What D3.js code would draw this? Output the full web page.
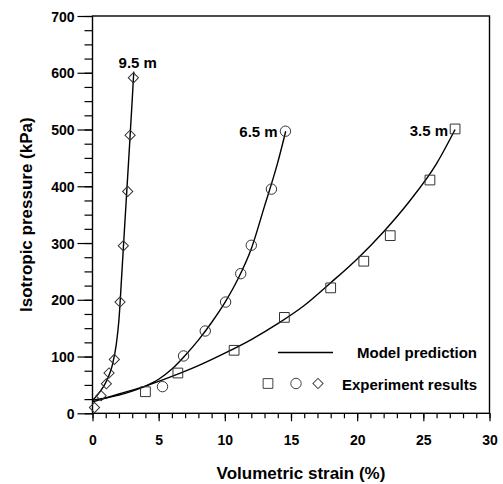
<!DOCTYPE html>
<html><head><meta charset="utf-8">
<script src="https://cdn.jsdelivr.net/npm/d3@7"></script>
<style>
body{margin:0;background:#fff;}
text{font-family:"Liberation Sans",Arial,Helvetica,sans-serif;font-weight:bold;fill:#000;}
</style></head>
<body><svg id="c" width="503" height="484"></svg>
<script>
// ---- data ----
const xTickValues = [0,5,10,15,20,25,30];
const yTickValues = [0,100,200,300,400,500,600,700];
const seriesNames = ["3.5 m","6.5 m","9.5 m"];
// experiment results [strain %, pressure kPa]
const exp35 = [[4.0,38],[6.45,71],[10.7,111],[14.5,169],[18.0,221],[20.5,268],[22.5,313],[25.5,411],[27.4,501]];
const exp65 = [[5.29,47],[6.88,101],[8.52,145],[10.06,196],[11.2,246],[12.0,296],[13.52,395],[14.58,497]];
const exp95 = [[0.15,10],[0.65,31],[1.05,52],[1.25,71],[1.65,95],[2.08,196],[2.33,295],[2.66,391],[2.84,490],[3.09,591]];
// model prediction
const model35 = [[0,20],[2,34],[4,48],[6,65],[8,84],[10,106],[12,130],[14,158],[16,190],[18,230],[20,272],[22,320],[24,375],[26,440],[27.4,500]];
const model65 = [[0,23],[1,27],[2,32],[3,39],[4,48],[5,60],[6,78],[7,102],[8,129],[9,160],[10,195],[11,237],[12,290],[13,365],[14,442],[14.6,497]];
const model95 = [[0,23],[0.4,33],[0.8,46],[1.2,64],[1.5,85],[1.8,122],[2.0,165],[2.2,240],[2.4,318],[2.6,395],[2.8,472],[3.0,552],[3.12,602]];
const legendLabels = ["Model prediction","Experiment results"];
const xTitle = "Volumetric strain (%)";
const yTitle = "Isotropic pressure (kPa)";

// ---- chart ----
const svg = d3.select("#c");
const L=92.5, R=489.5, T=16, B=413.3;
const x = d3.scaleLinear().domain([0,30]).range([L,R]);
const y = d3.scaleLinear().domain([0,700]).range([B,T]);

// frame
svg.append("rect").attr("x",L).attr("y",T).attr("width",R-L).attr("height",B-T)
  .attr("fill","none").attr("stroke","#000").attr("stroke-width",1.4);

// x axis minor/major
const xAx = svg.append("g").attr("transform",`translate(0,${B})`);
xAx.call(d3.axisBottom(x).tickValues(d3.range(0,31,1)).tickSize(5).tickFormat(""));
xAx.append("g").call(d3.axisBottom(x).tickValues(xTickValues).tickSize(8).tickFormat(d3.format("d")));
xAx.selectAll(".domain").remove();
xAx.selectAll("line").attr("stroke","#000").attr("stroke-width",1.2);
xAx.selectAll("text").attr("font-size",14).attr("dy",0).attr("y",32)
  .style("font-family","'Liberation Sans',Arial,sans-serif").style("font-weight","bold");

const yAx = svg.append("g").attr("transform",`translate(${L},0)`);
yAx.call(d3.axisLeft(y).tickValues(d3.range(0,701,25)).tickSize(8).tickFormat(""));
yAx.append("g").call(d3.axisLeft(y).tickValues(yTickValues).tickSize(15).tickFormat(d3.format("d")));
yAx.selectAll(".domain").remove();
yAx.selectAll("line").attr("stroke","#000").attr("stroke-width",1.2);
yAx.selectAll("text").attr("font-size",14).attr("x",-18).attr("dy","0.36em")
  .style("font-family","'Liberation Sans',Arial,sans-serif").style("font-weight","bold");

// titles
svg.append("text").attr("x",301).attr("y",479).attr("text-anchor","middle").attr("font-size",17).text(xTitle);
svg.append("text").attr("transform",`translate(32,${(T+B)/2}) rotate(-90)`).attr("text-anchor","middle").attr("font-size",17).text(yTitle);

// model lines
const line = d3.line().x(d=>x(d[0])).y(d=>y(d[1])).curve(d3.curveMonotoneX);
[model35,model65,model95].forEach(m=>{
  svg.append("path").attr("d",line(m)).attr("fill","none").attr("stroke","#000").attr("stroke-width",1.4);
});

// markers
const mk = {square:d3.symbolSquare, circle:d3.symbolCircle, diamond:d3.symbolSquare};
function markerTransform(type, px, py){
  return `translate(${px},${py})` + (type==="diamond" ? " rotate(45)" : "");
}
function draw(data, type, size){
  svg.append("g").selectAll("path").data(data).join("path")
    .attr("transform",d=>markerTransform(type, x(d[0]), y(d[1])))
    .attr("d",d3.symbol().type(mk[type]).size(size))
    .attr("fill","none").attr("stroke","#333").attr("stroke-width",1);
}
draw(exp35,"square",95);
draw(exp65,"circle",85);
draw(exp95,"diamond",52);

// curve labels at model end points
const e35 = model35[model35.length-1], e65 = model65[model65.length-1], e95 = model95[model95.length-1];
svg.append("text").attr("x",x(e95[0])+4).attr("y",y(e95[1])-4).attr("text-anchor","middle").attr("font-size",15).text(seriesNames[2]);
svg.append("text").attr("x",x(e65[0])-8).attr("y",y(e65[1])+6).attr("text-anchor","end").attr("font-size",15).text(seriesNames[1]);
svg.append("text").attr("x",x(e35[0])-7).attr("y",y(e35[1])+6).attr("text-anchor","end").attr("font-size",15).text(seriesNames[0]);

// legend
svg.append("line").attr("x1",278).attr("x2",333).attr("y1",352.5).attr("y2",352.5).attr("stroke","#000").attr("stroke-width",1.4);
svg.append("text").attr("x",357).attr("y",357.5).attr("font-size",15).text(legendLabels[0]);
[["square",268,95],["circle",296,85],["diamond",318,52]].forEach(s=>{
  svg.append("path").attr("transform",markerTransform(s[0], s[1], 383.5))
    .attr("d",d3.symbol().type(mk[s[0]]).size(s[2])).attr("fill","none").attr("stroke","#444").attr("stroke-width",1);
});
svg.append("text").attr("x",342).attr("y",389.5).attr("font-size",15).text(legendLabels[1]);
</script></body></html>
